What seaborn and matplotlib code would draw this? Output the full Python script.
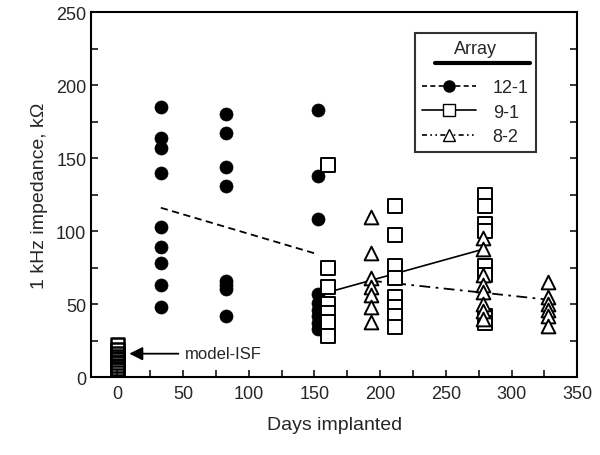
import matplotlib
matplotlib.use("Agg")
import matplotlib.pyplot as plt
import pandas as pd
import seaborn as sns
from matplotlib.lines import Line2D
from matplotlib.ticker import MultipleLocator

# array 12-1 (filled circles)
days_12_1 = [33] * 9 + [83] * 8 + [153] * 9
imp_12_1 = [185, 164, 157, 140, 103, 89, 78, 63, 48,
            180, 167, 144, 131, 66, 63, 60, 42,
            183, 138, 108, 57, 51, 46, 42, 37, 33]

# array 9-1 (open squares)
days_9_1 = [160] * 7 + [211] * 8 + [280] * 8
imp_9_1 = [145, 75, 62, 50, 44, 38, 28,
           117, 97, 76, 68, 55, 48, 42, 34,
           125, 117, 105, 100, 76, 70, 42, 37]

# array 8-2 (open triangles)
days_8_2 = [193] * 7 + [278] * 8 + [328] * 6
imp_8_2 = [110, 85, 68, 62, 56, 48, 38,
           95, 88, 70, 63, 58, 50, 45, 40,
           65, 55, 50, 46, 42, 35]

# model-ISF controls at day 0
days_isf = [0] * 9
imp_isf = [22, 19, 16, 14, 12, 10, 8, 6, 5]

# trend lines (end points)
trend_days_12_1 = [33, 153]
trend_imp_12_1 = [116, 84]
trend_days_9_1 = [160, 280]
trend_imp_9_1 = [58, 88]
trend_days_8_2 = [193, 328]
trend_imp_8_2 = [66, 53]

df_12_1 = pd.DataFrame({"days": days_12_1, "imp": imp_12_1})
df_9_1 = pd.DataFrame({"days": days_9_1, "imp": imp_9_1})
df_8_2 = pd.DataFrame({"days": days_8_2, "imp": imp_8_2})
df_isf = pd.DataFrame({"days": days_isf, "imp": imp_isf})

sns.set_style("ticks")
plt.rcParams["font.family"] = ["Liberation Sans", "DejaVu Sans"]

dash_dot = (0, (6, 3, 1.5, 3))

fig = plt.figure(figsize=(6, 4.56), dpi=100)
ax = fig.add_axes([0.152, 0.171, 0.81, 0.80])

# trend lines
sns.lineplot(x=trend_days_12_1, y=trend_imp_12_1, ax=ax, color="black",
             linestyle=(0, (4, 2.5)), linewidth=1.3)
sns.lineplot(x=trend_days_9_1, y=trend_imp_9_1, ax=ax, color="black",
             linestyle="-", linewidth=1.2)
sns.lineplot(x=trend_days_8_2, y=trend_imp_8_2, ax=ax, color="black",
             linestyle=dash_dot, linewidth=1.3)

# data points
sns.scatterplot(data=df_12_1, x="days", y="imp", ax=ax, marker="o", s=88,
                color="black", edgecolor="black", linewidth=0.5, zorder=3)
sns.scatterplot(data=df_9_1, x="days", y="imp", ax=ax, marker="s", s=92,
                color="black", facecolor="white", edgecolor="black",
                linewidth=1.4, zorder=3)
sns.scatterplot(data=df_8_2, x="days", y="imp", ax=ax, marker="^", s=98,
                color="black", facecolor="white", edgecolor="black",
                linewidth=1.4, zorder=4)
sns.scatterplot(data=df_isf, x="days", y="imp", ax=ax, marker="s", s=92,
                color="black", facecolor="none", edgecolor="black",
                linewidth=1.8, zorder=3)

ax.annotate("model-ISF", xy=(9, 16), xytext=(51, 16), fontsize=12,
            va="center", ha="left",
            arrowprops=dict(arrowstyle="-|>", color="black", lw=1.3,
                            mutation_scale=20, shrinkA=2, shrinkB=0))

ax.set_xlim(-20, 350)
ax.set_ylim(0, 250)
ax.xaxis.set_major_locator(MultipleLocator(50))
ax.xaxis.set_minor_locator(MultipleLocator(25))
ax.yaxis.set_major_locator(MultipleLocator(50))
ax.yaxis.set_minor_locator(MultipleLocator(25))
ax.tick_params(which="both", direction="in", length=5, width=1.3,
               left=True, right=True, bottom=True, top=False, labelsize=13)
ax.tick_params(axis="x", pad=6)
for side in ["left", "right", "top", "bottom"]:
    ax.spines[side].set_visible(True)
    ax.spines[side].set_linewidth(1.5)
    ax.spines[side].set_color("black")

ax.set_xlabel("Days implanted", fontsize=14, labelpad=10)
ax.set_ylabel("1 kHz impedance, k\u03a9", fontsize=14, labelpad=6)

handles = [
    Line2D([], [], color="black", linestyle=(0, (3, 2)), lw=1.2,
           marker="o", markersize=8, markerfacecolor="black"),
    Line2D([], [], color="black", linestyle="-", lw=1.2,
           marker="s", markersize=8, markerfacecolor="white"),
    Line2D([], [], color="black", linestyle=(0, (3, 2, 1, 2, 1, 2)), lw=1.2,
           marker="^", markersize=8, markerfacecolor="white"),
]
leg = ax.legend(handles, ["12-1", "9-1", "8-2"], title="Array",
                loc="upper left", bbox_to_anchor=(415 / 600, 1 - 34 / 456),
                bbox_transform=fig.transFigure, fontsize=13, title_fontsize=13,
                frameon=True, fancybox=False, edgecolor="black",
                handlelength=3.0, labelspacing=0.4, borderpad=0.4,
                borderaxespad=0, handletextpad=0.9)
leg.get_frame().set_linewidth(1.5)
# leave room under the title for the rule line
leg._legend_box.sep = 16

fig.add_artist(Line2D([435 / 600, 530 / 600], [1 - 64 / 456, 1 - 64 / 456],
                      transform=fig.transFigure, color="black", lw=3))

fig.savefig("out.png", dpi=100)
